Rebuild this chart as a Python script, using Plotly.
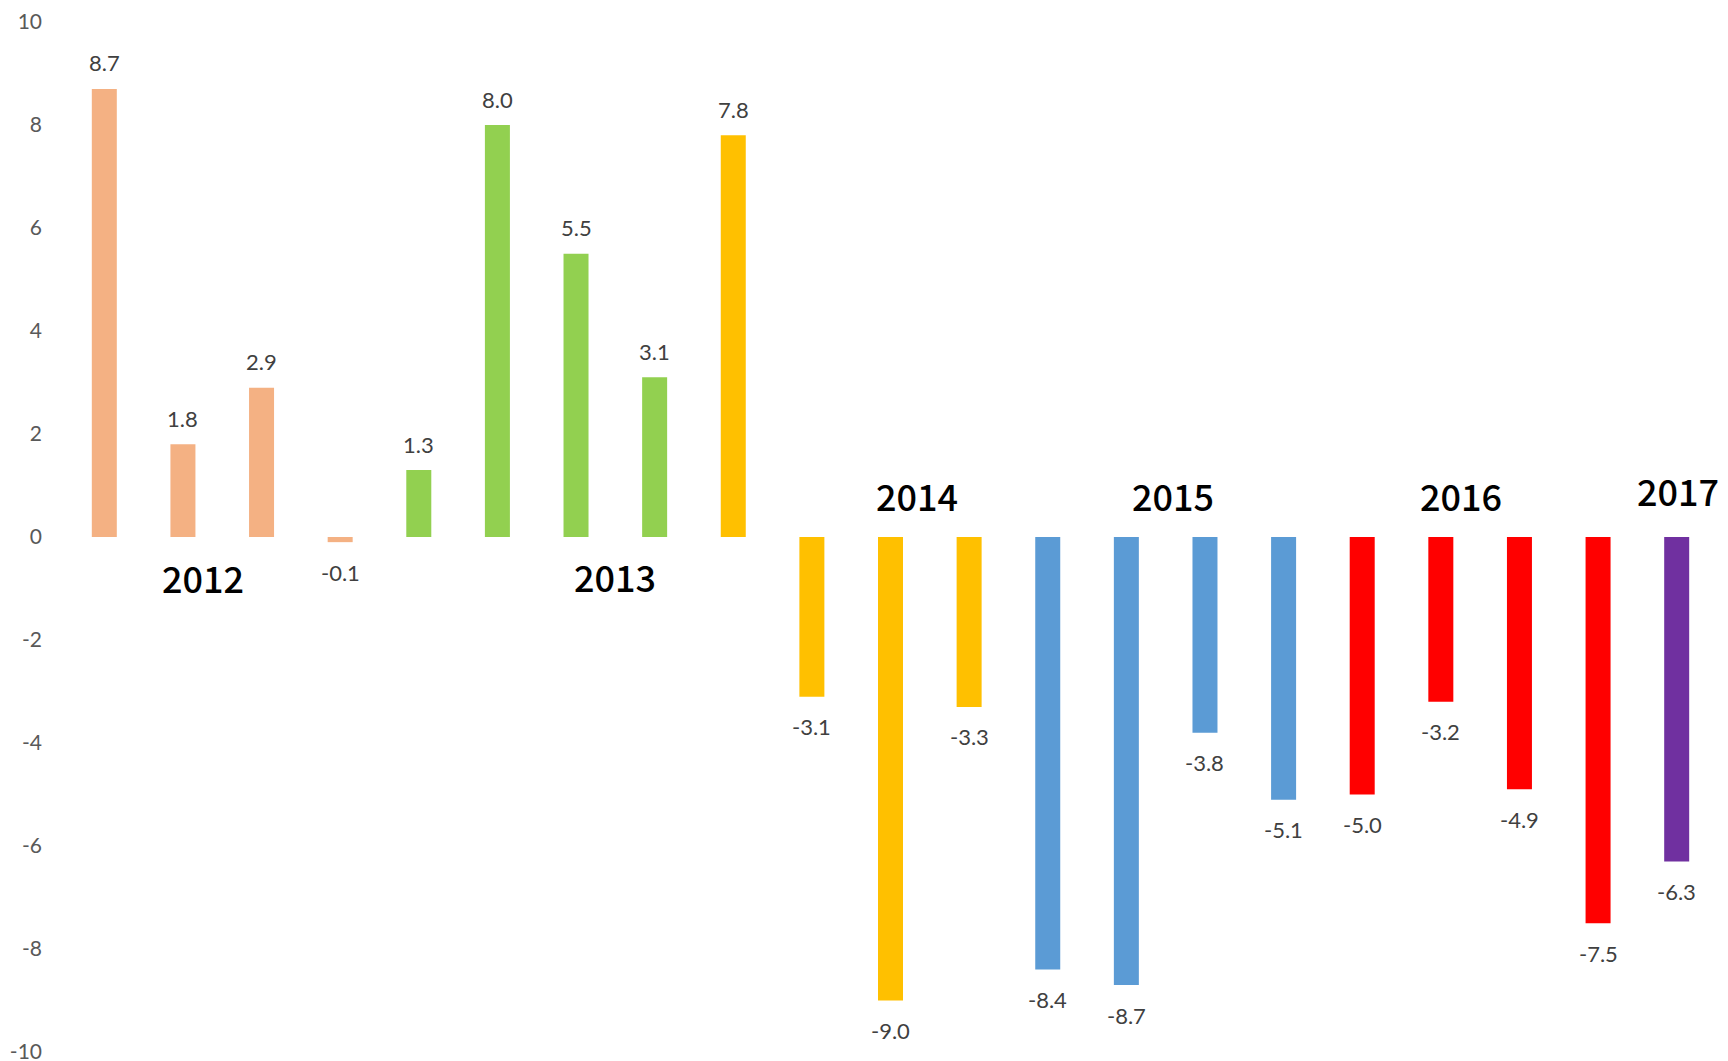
import plotly.graph_objects as go

# Data
values = [8.7, 1.8, 2.9, -0.1, 1.3, 8.0, 5.5, 3.1, 7.8, -3.1, -9.0, -3.3,
          -8.4, -8.7, -3.8, -5.1, -5.0, -3.2, -4.9, -7.5, -6.3]
groups = ["2012"] * 4 + ["2013"] * 4 + ["2014"] * 4 + ["2015"] * 4 + ["2016"] * 4 + ["2017"]
group_colors = {
    "2012": "#F4B183",
    "2013": "#92D050",
    "2014": "#FFC000",
    "2015": "#5B9BD5",
    "2016": "#FF0000",
    "2017": "#7030A0",
}
year_labels = ["2012", "2013", "2014", "2015", "2016", "2017"]
year_label_x = [1.25, 6.5, 10.34, 13.59, 17.26, 20.02]
year_label_y = [-0.78, -0.76, 0.81, 0.81, 0.81, 0.91]
tick_vals = [-10, -8, -6, -4, -2, 0, 2, 4, 6, 8, 10]
tick_text = [str(v) for v in tick_vals]

x = list(range(len(values)))
colors = [group_colors[g] for g in groups]

fig = go.Figure()
fig.add_trace(go.Bar(x=x, y=values, marker=dict(color=colors, line=dict(width=0)),
                     hoverinfo="y", showlegend=False))

annotations = []
for xi, v in zip(x, values):
    annotations.append(dict(
        x=xi, y=v, xref="x", yref="y", text=f"{v:.1f}", showarrow=False,
        yshift=26 if v >= 0 else -30, yanchor="middle", xanchor="center",
        font=dict(family="Lato, Open Sans, sans-serif", size=22, color="#404040"),
    ))
for t, xx, yy in zip(year_labels, year_label_x, year_label_y):
    annotations.append(dict(
        x=xx, y=yy, xref="x", yref="y", text=t, showarrow=False,
        xanchor="center", yanchor="middle",
        font=dict(family="Noto Sans CJK JP, sans-serif", size=36, color="#000000",
                  weight=500),
    ))

fig.update_layout(
    width=1728, height=1061,
    margin=dict(l=57, r=20, t=14, b=17),
    paper_bgcolor="white", plot_bgcolor="white",
    bargap=0.682,
    annotations=annotations,
    xaxis=dict(range=[-0.5, 20.5], showticklabels=False, showgrid=False,
               zeroline=False, showline=False, ticks="", automargin=False),
    yaxis=dict(range=[-10, 10], tickvals=tick_vals, ticktext=tick_text, showgrid=False,
               zeroline=False, showline=False, ticks="", automargin=False,
               ticklabelstandoff=22, ticklabeloverflow="allow",
               tickfont=dict(family="Lato, Open Sans, sans-serif", size=21, color="#595959")),
)

fig.write_html("out.html")
